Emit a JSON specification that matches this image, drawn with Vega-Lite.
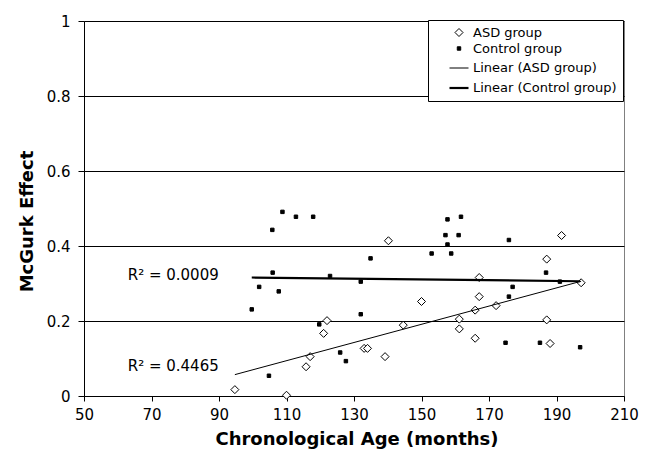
{
  "$schema": "https://vega.github.io/schema/vega-lite/v6.json",
  "width": 540,
  "height": 375,
  "autosize": {"type": "none"},
  "padding": {"left": 84, "top": 21, "right": 27, "bottom": 54},
  "background": "white",
  "config": {
    "font": "DejaVu Sans",
    "view": {"stroke": "#808080", "strokeWidth": 1},
    "axis": {
      "labelFont": "DejaVu Sans", "labelFontSize": 15, "labelColor": "#000",
      "titleFont": "DejaVu Sans", "titleFontSize": 18, "titleFontWeight": "bold", "titleColor": "#000",
      "domainColor": "#000", "tickColor": "#000", "gridColor": "#000",
      "domainWidth": 1, "tickWidth": 1, "gridWidth": 1, "gridOpacity": 1
    },
    "legend": {
      "symbolStrokeColor": "#000"
    }
  },
  "datasets": {
    "points": [
      {"series": "ASD group", "age": 94.7, "mcgurk": 0.017},
      {"series": "ASD group", "age": 110, "mcgurk": 0.002},
      {"series": "ASD group", "age": 115.8, "mcgurk": 0.078},
      {"series": "ASD group", "age": 117, "mcgurk": 0.105},
      {"series": "ASD group", "age": 121, "mcgurk": 0.167},
      {"series": "ASD group", "age": 122, "mcgurk": 0.201},
      {"series": "ASD group", "age": 133, "mcgurk": 0.127},
      {"series": "ASD group", "age": 134, "mcgurk": 0.127},
      {"series": "ASD group", "age": 139.2, "mcgurk": 0.105},
      {"series": "ASD group", "age": 140.2, "mcgurk": 0.414},
      {"series": "ASD group", "age": 144.6, "mcgurk": 0.189},
      {"series": "ASD group", "age": 150, "mcgurk": 0.252},
      {"series": "ASD group", "age": 161.2, "mcgurk": 0.205},
      {"series": "ASD group", "age": 161.2, "mcgurk": 0.179},
      {"series": "ASD group", "age": 165.9, "mcgurk": 0.229},
      {"series": "ASD group", "age": 165.9, "mcgurk": 0.154},
      {"series": "ASD group", "age": 167.1, "mcgurk": 0.265},
      {"series": "ASD group", "age": 167.1, "mcgurk": 0.316},
      {"series": "ASD group", "age": 172.1, "mcgurk": 0.241},
      {"series": "ASD group", "age": 187.1, "mcgurk": 0.365},
      {"series": "ASD group", "age": 187.1, "mcgurk": 0.203},
      {"series": "ASD group", "age": 188.1, "mcgurk": 0.14},
      {"series": "ASD group", "age": 191.5, "mcgurk": 0.428},
      {"series": "ASD group", "age": 197.3, "mcgurk": 0.302},
      {"series": "Control group", "age": 99.7, "mcgurk": 0.231},
      {"series": "Control group", "age": 101.9, "mcgurk": 0.291},
      {"series": "Control group", "age": 104.8, "mcgurk": 0.054},
      {"series": "Control group", "age": 105.8, "mcgurk": 0.443},
      {"series": "Control group", "age": 105.9, "mcgurk": 0.329},
      {"series": "Control group", "age": 107.7, "mcgurk": 0.279},
      {"series": "Control group", "age": 108.8, "mcgurk": 0.491},
      {"series": "Control group", "age": 112.8, "mcgurk": 0.478},
      {"series": "Control group", "age": 117.9, "mcgurk": 0.478},
      {"series": "Control group", "age": 119.7, "mcgurk": 0.191},
      {"series": "Control group", "age": 122.9, "mcgurk": 0.32},
      {"series": "Control group", "age": 125.9, "mcgurk": 0.116},
      {"series": "Control group", "age": 127.6, "mcgurk": 0.093},
      {"series": "Control group", "age": 132, "mcgurk": 0.305},
      {"series": "Control group", "age": 132, "mcgurk": 0.218},
      {"series": "Control group", "age": 134.9, "mcgurk": 0.367},
      {"series": "Control group", "age": 153, "mcgurk": 0.38},
      {"series": "Control group", "age": 157.1, "mcgurk": 0.429},
      {"series": "Control group", "age": 157.7, "mcgurk": 0.471},
      {"series": "Control group", "age": 157.7, "mcgurk": 0.404},
      {"series": "Control group", "age": 158.8, "mcgurk": 0.38},
      {"series": "Control group", "age": 161, "mcgurk": 0.429},
      {"series": "Control group", "age": 161.7, "mcgurk": 0.478},
      {"series": "Control group", "age": 174.9, "mcgurk": 0.142},
      {"series": "Control group", "age": 175.9, "mcgurk": 0.416},
      {"series": "Control group", "age": 175.9, "mcgurk": 0.265},
      {"series": "Control group", "age": 177, "mcgurk": 0.291},
      {"series": "Control group", "age": 185.1, "mcgurk": 0.142},
      {"series": "Control group", "age": 186.9, "mcgurk": 0.329},
      {"series": "Control group", "age": 191, "mcgurk": 0.305},
      {"series": "Control group", "age": 197, "mcgurk": 0.13}
    ],
    "trend": [
      {"series": "Linear (ASD group)", "age": 94.7, "mcgurk": 0.057},
      {"series": "Linear (ASD group)", "age": 197.3, "mcgurk": 0.306},
      {"series": "Linear (Control group)", "age": 99.7, "mcgurk": 0.316},
      {"series": "Linear (Control group)", "age": 197, "mcgurk": 0.306}
    ],
    "labels": [
      {"label": "R² = 0.0009", "age": 62.95, "mcgurk": 0.324},
      {"label": "R² = 0.4465", "age": 62.95, "mcgurk": 0.08}
    ]
  },
  "encoding": {
    "x": {
      "field": "age", "type": "quantitative",
      "scale": {"domain": [50, 210], "nice": false, "zero": false},
      "axis": {
        "values": [50, 70, 90, 110, 130, 150, 170, 190, 210],
        "title": "Chronological Age (months)",
        "grid": false, "tickSize": 5, "labelPadding": 6,
        "labelFlush": false, "labelOverlap": false,
        "titleX": 272.5, "titleY": 48.7, "titleBaseline": "alphabetic"
      }
    },
    "y": {
      "field": "mcgurk", "type": "quantitative",
      "scale": {"domain": [0, 1], "nice": false, "zero": false},
      "axis": {
        "values": [0, 0.2, 0.4, 0.6, 0.8, 1],
        "format": "~g",
        "title": "McGurk Effect",
        "grid": true, "tickSize": 6, "labelPadding": 8,
        "labelFlush": false, "labelOverlap": false,
        "titleX": -52, "titleY": 200, "titleBaseline": "alphabetic", "titleAngle": -90
      }
    }
  },
  "layer": [
    {
      "data": {"name": "points"},
      "mark": {"type": "point", "filled": true, "stroke": "black", "strokeWidth": 1, "opacity": 1},
      "encoding": {
        "shape": {
          "field": "series", "type": "nominal",
          "scale": {"domain": ["ASD group", "Control group", "Linear (ASD group)", "Linear (Control group)"], "range": ["diamond", "square", "stroke", "stroke"]},
          "legend": {"title": null, "orient": "none", "legendX": 344, "legendY": -1, "strokeColor": "#000", "fillColor": "white", "padding": 6, "symbolOffset": 14, "labelOffset": 3, "labelFont": "DejaVu Sans", "labelFontSize": 13, "labelColor": "#000", "rowPadding": 2, "symbolStrokeColor": "#000", "encode": {"symbols": {"update": {"stroke": {"value": "#000"}, "opacity": {"value": 1}}}}}
        },
        "fill": {
          "field": "series", "type": "nominal",
          "scale": {"domain": ["ASD group", "Control group", "Linear (ASD group)", "Linear (Control group)"], "range": ["white", "black", "white", "white"]},
          "legend": {"title": null, "orient": "none", "legendX": 344, "legendY": -1, "strokeColor": "#000", "fillColor": "white", "padding": 6, "symbolOffset": 14, "labelOffset": 3, "labelFont": "DejaVu Sans", "labelFontSize": 13, "labelColor": "#000", "rowPadding": 2, "symbolStrokeColor": "#000", "encode": {"symbols": {"update": {"stroke": {"value": "#000"}, "opacity": {"value": 1}}}}}
        },
        "size": {
          "field": "series", "type": "nominal",
          "scale": {"type": "ordinal", "domain": ["ASD group", "Control group", "Linear (ASD group)", "Linear (Control group)"], "range": [64, 12, 361, 361]},
          "legend": {"title": null, "orient": "none", "legendX": 344, "legendY": -1, "strokeColor": "#000", "fillColor": "white", "padding": 6, "symbolOffset": 14, "labelOffset": 3, "labelFont": "DejaVu Sans", "labelFontSize": 13, "labelColor": "#000", "rowPadding": 2, "symbolStrokeColor": "#000", "encode": {"symbols": {"update": {"stroke": {"value": "#000"}, "opacity": {"value": 1}}}}}
        }
      }
    },
    {
      "data": {"name": "trend"},
      "mark": {"type": "line", "color": "black"},
      "encoding": {
        "strokeWidth": {
          "field": "series", "type": "nominal",
          "scale": {"type": "ordinal", "domain": ["ASD group", "Control group", "Linear (ASD group)", "Linear (Control group)"], "range": [1, 1, 1, 2.2]},
          "legend": {"title": null, "orient": "none", "legendX": 344, "legendY": -1, "strokeColor": "#000", "fillColor": "white", "padding": 6, "symbolOffset": 14, "labelOffset": 3, "labelFont": "DejaVu Sans", "labelFontSize": 13, "labelColor": "#000", "rowPadding": 2, "symbolStrokeColor": "#000", "encode": {"symbols": {"update": {"stroke": {"value": "#000"}, "opacity": {"value": 1}}}}}
        }
      }
    },
    {
      "data": {"name": "labels"},
      "mark": {"type": "text", "align": "left", "baseline": "middle", "font": "DejaVu Sans", "fontSize": 15, "color": "black"},
      "encoding": {
        "text": {"field": "label", "type": "nominal"}
      }
    }
  ]
}
